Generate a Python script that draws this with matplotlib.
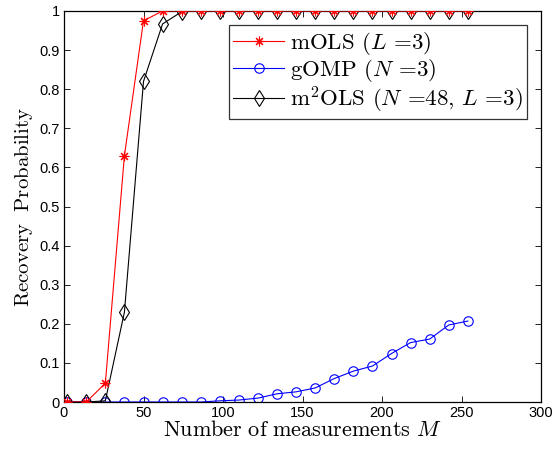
import matplotlib
matplotlib.use("agg")
import matplotlib.pyplot as plt

# data
M = [2, 14, 26, 38, 50, 62, 74, 86, 98, 110, 122, 134, 146, 158, 170, 182, 194, 206, 218, 230, 242, 254]
mols = [0, 0, 0.048, 0.63, 0.975, 1, 1, 1, 1, 1, 1, 1, 1, 1, 1, 1, 1, 1, 1, 1, 1, 1]
gomp = [0, 0, 0, 0, 0, 0, 0, 0, 0.003, 0.005, 0.01, 0.021, 0.026, 0.036, 0.06, 0.079, 0.092, 0.124, 0.152, 0.161, 0.197, 0.207]
m2ols = [0, 0, 0.003, 0.23, 0.82, 0.967, 0.998, 1, 1, 1, 1, 1, 1, 1, 1, 1, 1, 1, 1, 1, 1, 1]

plt.rcParams['mathtext.fontset'] = 'cm'
plt.rcParams['font.family'] = ['Liberation Sans', 'DejaVu Sans']

fig = plt.figure(figsize=(5.52, 4.51), dpi=100)
ax = fig.add_axes([64 / 552, 1 - 402 / 451, 477 / 552, 391 / 451])

# matlab style asterisk: plus + cross
l1, = ax.plot(M, mols, color='red', marker=(8, 2, 0), markersize=7, markeredgewidth=0.8,
              linewidth=0.8, zorder=4, label='mOLS ($L$ =3)')
l2, = ax.plot(M, gomp, color='blue', marker='o', markersize=6.8, markerfacecolor='none',
              markeredgewidth=0.8, linewidth=0.8, zorder=2, label='gOMP ($N$ =3)')
l3, = ax.plot(M, m2ols, color='black', marker='d', markersize=8, markerfacecolor='none',
              markeredgewidth=0.8, linewidth=0.8, zorder=3,
              label='m$^2$OLS ($N$ =48, $L$ =3)')

ax.set_xlim(0, 300)
ax.set_ylim(0, 1)
ax.set_xticks(range(0, 301, 50))
ax.set_yticks([i / 10 for i in range(11)])
ax.set_yticklabels(['0', '0.1', '0.2', '0.3', '0.4', '0.5', '0.6', '0.7', '0.8', '0.9', '1'])
ax.tick_params(direction='in', top=True, right=True, labelsize=10.5, length=4, width=0.6, pad=3)
for s in ax.spines.values():
    s.set_linewidth(0.9)

ax.set_xlabel(r'$\mathrm{Number\ of\ measurements}\ M$', fontsize=16, labelpad=0)
ax.set_ylabel(r'$\mathrm{Recovery\ \ Probability}$', fontsize=15, labelpad=3)

leg = ax.legend(handles=[l1, l2, l3], loc='upper right', bbox_to_anchor=(0.9706, 0.964),
                prop={'family': 'cmr10', 'size': 16.5}, frameon=True, fancybox=False,
                edgecolor='black', borderpad=0.2, labelspacing=0.02, handlelength=2.2,
                handletextpad=0.25, borderaxespad=0)
leg.get_frame().set_linewidth(0.9)

fig.savefig('out.png', dpi=100)
